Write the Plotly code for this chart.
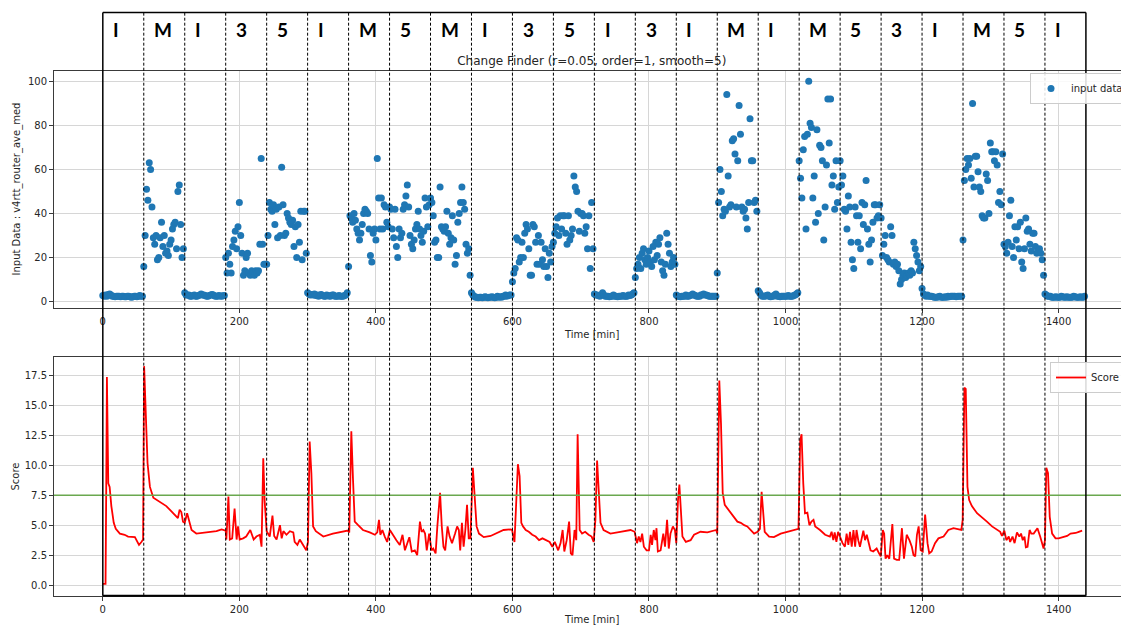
import plotly.graph_objects as go

# ---------------- data ----------------
segment_labels = ["I", "M", "I", "3", "5", "I", "M", "5", "M", "I", "3", "5",
                  "I", "3", "I", "M", "I", "M", "5", "3", "I", "M", "5", "I"]
segment_minutes = 60
threshold = 7.5

# input data sampled every 2 minutes (t = 0, 2, ..., 1438)
input_values = [
    # 0-60 I
    2.8, 2.5, 3.0, 2.5, 3.2, 3.5, 3.0, 2.5, 2.5, 2.2, 2.5, 2.5, 2.5, 2.2, 2.5, 2.5, 2.2, 2.2, 2.5, 2.5, 2.2, 2.0, 2.2, 2.5, 2.5, 2.2, 2.5, 2.8, 2.5, 2.5,
    # 60-120 M
    16, 30, 51, 46, 63, 60, 43, 29, 26, 30, 19, 20, 29, 36, 25, 30, 22, 23, 21, 26, 28, 33, 35, 36, 24, 50, 53, 35, 20, 24,
    # 120-180 I
    4.0, 3.0, 3.0, 3.0, 2.5, 2.5, 2.8, 3.0, 2.5, 2.5, 2.8, 3.0, 3.5, 3.0, 3.0, 2.8, 2.5, 2.5, 2.8, 3.0, 3.2, 3.0, 2.6, 2.5, 2.5, 2.8, 2.6, 2.5, 2.7, 2.8,
    # 180-240 3
    20, 13, 22, 17, 13, 25, 28, 32, 24, 34, 45, 30, 22, 12, 14, 20, 22, 13, 12, 14, 13, 12, 14, 13, 14, 26, 65, 26, 17, 17,
    # 240-300 5
    17, 30, 45, 42, 41, 44, 35, 42, 29, 43, 30, 61, 44, 30, 31, 40, 38, 36, 35, 37, 25, 34, 20, 35, 27, 41, 19, 41, 41, 22,
    # 300-360 I
    4.0, 3.5, 3.0, 3.2, 3.0, 3.5, 2.8, 3.0, 2.5, 3.0, 3.2, 2.8, 2.5, 2.5, 3.0, 2.8, 2.5, 2.6, 3.0, 3.0, 2.5, 2.4, 2.5, 2.8, 2.5, 2.5, 2.5, 2.8, 3.0, 4.0,
    # 360-420 M
    16, 39, 38, 36, 40, 37, 33, 31, 28, 31, 35, 40, 42, 41, 40, 33, 21, 18, 31, 33, 28, 65, 47, 33, 47, 33, 44, 43, 36, 34,
    # 420-480 5
    43, 42, 33, 29, 42, 25, 20, 33, 29, 31, 42, 44, 48, 53, 43, 30, 26, 24, 28, 33, 35, 41, 33, 30, 27, 32, 47, 43, 34, 44,
    # 480-540 M
    47, 45, 39, 27, 28, 20, 20, 52, 34, 33, 32, 34, 41, 31, 26, 29, 39, 28, 17, 21, 36, 40, 45, 52, 45, 42, 26, 22, 24, 12,
    # 540-600 I
    4.0, 3.0, 2.5, 2.0, 2.0, 1.8, 2.0, 2.0, 1.8, 2.0, 2.2, 2.0, 1.8, 2.0, 2.0, 2.2, 2.0, 1.8, 2.0, 2.5, 2.0, 2.2, 2.0, 2.5, 2.5, 3.0, 2.5, 2.8, 3.0, 3.0,
    # 600-660 3
    9, 13, 15, 29, 28, 18, 20, 27, 20, 31, 35, 33, 24, 12, 12, 35, 34, 27, 17, 30, 17, 27, 19, 16, 24, 16, 11, 22, 18, 25,
    # 660-720 5
    27, 31, 34, 38, 30, 39, 33, 39, 39, 31, 26, 39, 28, 30, 33, 57, 52, 50, 41, 32, 40, 40, 39, 31, 34, 24, 39, 15, 45, 24,
    # 720-780 I
    3.5, 3.0, 3.0, 2.8, 2.5, 3.0, 4.0, 3.0, 2.5, 2.5, 2.5, 2.2, 2.5, 2.5, 3.0, 2.5, 2.5, 2.2, 2.5, 2.5, 2.5, 2.8, 2.5, 2.5, 2.5, 3.0, 2.8, 3.0, 3.5, 4.0,
    # 780-840 3
    11, 15, 17, 20, 15, 22, 24, 19, 17, 20, 23, 18, 16, 25, 19, 27, 21, 26, 29, 18, 14, 12, 17, 31, 26, 22, 16, 18, 20, 17,
    # 840-900 I
    3.0, 2.5, 2.5, 2.2, 2.5, 2.5, 2.5, 3.0, 2.5, 2.5, 2.8, 3.0, 3.5, 3.0, 2.8, 2.5, 2.5, 2.5, 3.0, 3.0, 3.5, 3.0, 3.0, 2.8, 2.5, 2.5, 2.5, 2.5, 2.5, 2.5,
    # 900-960 M
    13, 45, 60, 50, 39, 42, 41, 94, 57, 43, 44, 73, 74, 67, 43, 64, 89, 76, 43, 41, 42, 38, 33, 45, 83, 64, 64, 45, 46, 41,
    # 960-1020 I
    5.0, 4.0, 3.0, 2.5, 2.5, 2.5, 2.8, 3.0, 2.5, 2.2, 2.5, 2.5, 3.0, 3.5, 2.5, 2.5, 2.2, 2.5, 2.5, 2.5, 2.5, 2.5, 2.8, 2.5, 2.5, 2.5, 2.8, 3.0, 3.5, 4.0,
    # 1020-1080 M
    64, 56, 47, 69, 75, 33, 76, 100, 81, 79, 47, 57, 36, 78, 40, 71, 70, 64, 28, 43, 62, 92, 72, 92, 53, 57, 42, 64, 45, 52,
    # 1080-1140 5
    64, 53, 57, 42, 41, 33, 48, 43, 27, 19, 15, 43, 39, 27, 39, 24, 45, 35, 44, 55, 33, 26, 18, 28, 36, 44, 44, 38, 39, 44,
    # 1140-1200 3
    38, 21, 26, 30, 20, 19, 18, 34, 30, 17, 18, 16, 17, 14, 8, 10, 12, 13, 11, 12, 13, 12, 14, 13, 27, 24, 21, 18, 14, 16,
    # 1200-1260 I
    6.0, 3.5, 3.0, 2.5, 3.0, 2.5, 2.5, 2.5, 2.2, 2.0, 2.0, 2.0, 2.2, 2.5, 2.0, 2.0, 2.0, 2.2, 2.0, 2.5, 2.2, 2.5, 2.5, 2.5, 2.5, 2.2, 2.5, 2.5, 2.5, 2.5,
    # 1260-1320 M
    28, 55, 60, 65, 62, 65, 56, 90, 52, 66, 66, 59, 52, 50, 39, 38, 38, 58, 55, 40, 72, 68, 68, 64, 68, 62, 45, 50, 44, 67,
    # 1320-1380 5
    26, 25, 22, 27, 39, 46, 25, 20, 34, 28, 34, 24, 36, 18, 15, 24, 38, 32, 33, 26, 23, 31, 31, 25, 22, 23, 24, 22, 19, 12,
    # 1380-1440 I
    3.5, 3.0, 2.5, 2.5, 2.5, 2.0, 2.0, 2.0, 2.2, 2.0, 2.0, 2.0, 2.5, 2.2, 2.0, 2.0, 2.2, 2.0, 2.0, 2.0, 2.0, 2.5, 2.2, 2.0, 2.0, 2.0, 2.2, 2.0, 2.0, 2.5,
]
input_times = list(range(0, 2 * len(input_values), 2))

# Change-finder score (time [min], score)
score_t = [0, 4, 5, 6, 8, 10, 12.5, 16, 19, 25, 32, 37, 47, 50, 53, 56.5, 59, 60.5, 63, 65.5, 69, 74, 93, 110, 112.5, 115, 117.5, 120, 123.5, 126.5,
           130, 137, 152, 166.5, 174, 180, 181, 184, 186, 189.5, 193, 196, 198, 200.5, 205.5, 210, 216, 221, 225, 230, 232.5, 235, 237, 240,
           244.5, 248.5, 251, 254.5, 259.5, 262, 264.5, 269, 274, 279, 281, 285, 288.5, 293.5, 298, 300.5, 303, 305.5, 308, 312, 323, 337, 352,
           359, 361, 364, 366.5, 369, 374, 381, 391, 398.5, 402, 404.5, 406.5, 409.5, 413, 416.5, 420.5, 425.5, 430, 435, 439, 442.5, 446, 449,
           452.5, 457, 460.5, 464.5, 467, 469.5, 472, 474.5, 478, 481.5, 484, 487.5, 490, 494, 496.5, 499, 501.5, 505, 508, 511.5, 516, 519,
           521.5, 523.5, 526, 528.5, 531, 533.5, 536, 538.5, 542, 544.5, 547.5, 551, 558, 568, 587, 597, 599.5, 603, 605.5, 608, 610.5, 613,
           615.5, 619.5, 624, 629, 634, 639, 644, 648.5, 654.5, 658.5, 662, 667, 670.5, 673.5, 676, 679.5, 683, 685.5, 688, 691, 693.5, 695.5,
           698.5, 702, 706.5, 711.5, 716, 719, 721.5, 724, 726.5, 729, 733.5, 743.5, 758, 773, 779, 782.5, 785, 787.5, 790, 792.5, 796.5, 800,
           802.5, 804.5, 807, 809.5, 811, 813, 817, 821, 823.5, 826.5, 829, 831.5, 835, 838, 840, 842.5, 844.5, 846.5, 849, 854, 861, 866,
           875.5, 885.5, 893, 898.5, 900, 901.5, 903, 905.5, 908, 911, 915, 919.5, 924.5, 929.5, 934.5, 939.5, 944, 949, 954, 959, 962.5, 965,
           967, 969.5, 976, 983, 993, 1003, 1012.5, 1017.5, 1019, 1021.5, 1023.5, 1026, 1028.5, 1032, 1035, 1038, 1041, 1043.5, 1050.5, 1058,
           1065, 1067.5, 1070, 1072, 1074.5, 1077, 1079.5, 1083.5, 1087, 1089.5, 1092, 1094.5, 1097, 1099.5, 1102, 1104, 1106.5, 1109, 1114,
           1116.5, 1119, 1121.5, 1124.5, 1128.5, 1133.5, 1137, 1139.5, 1142.5, 1144.5, 1146.5, 1149, 1152, 1156.5, 1159, 1163, 1166.5, 1170.5,
           1173.5, 1177.5, 1181.5, 1185, 1187.5, 1190, 1192.5, 1195, 1198, 1201, 1204.5, 1208, 1210.5, 1214, 1219, 1224, 1231.5, 1238.5, 1246,
           1253.5, 1257.5, 1259.5, 1262, 1264, 1266.5, 1269, 1273, 1280.5, 1287.5, 1295, 1302.5, 1309.5, 1314.5, 1317, 1320.5, 1323.5, 1327,
           1329, 1332.5, 1335.5, 1339, 1342.5, 1345, 1347.5, 1350, 1352, 1354.5, 1357.5, 1360, 1363.5, 1367, 1369, 1373, 1375.5, 1378, 1380,
           1382, 1384.5, 1387, 1390.5, 1395.5, 1400, 1407.5, 1412.5, 1417.5, 1425, 1429.5, 1434.5]
score_v = [0.1, 0.1, 8.0, 17.4, 8.5, 8.2, 6.6, 5.2, 4.7, 4.3, 4.2, 4.05, 4.0, 3.6, 3.35, 3.6, 3.8, 18.3, 13.5, 10.2, 8.2, 7.3, 6.6, 5.6, 6.3, 6.1, 5.3, 5.2, 6.0, 5.3,
           4.6, 4.3, 4.4, 4.5, 4.65, 4.55, 3.8, 7.4, 3.8, 3.9, 6.4, 3.8, 4.9, 3.8, 3.9, 4.05, 4.6, 3.8, 4.05, 4.2, 3.2, 10.6, 7.1, 4.5,
           4.05, 5.8, 4.1, 3.8, 5.0, 3.9, 4.5, 4.2, 4.5, 4.4, 3.6, 3.35, 3.8, 3.35, 2.9, 3.6, 12.0, 9.35, 4.9, 4.5, 4.05, 4.3, 4.5,
           4.55, 4.4, 12.85, 8.8, 5.3, 5.0, 4.6, 4.4, 4.2, 4.4, 5.45, 4.2, 4.6, 4.05, 3.6, 4.6, 4.1, 3.75, 3.35, 4.2, 2.9, 3.5, 4.0,
           2.8, 2.9, 2.5, 5.3, 4.45, 4.6, 4.3, 2.9, 4.3, 2.9, 3.05, 2.65, 4.9, 7.7, 4.9, 3.2, 2.9, 4.9, 4.05, 3.5, 4.3, 4.9,
           4.6, 2.9, 5.2, 3.2, 4.6, 6.7, 3.9, 3.9, 9.8, 7.8, 4.9, 4.3, 4.0, 4.1, 4.6, 4.65, 4.6, 3.6, 7.4, 10.1, 9.1, 5.2,
           4.9, 4.6, 4.45, 4.2, 4.05, 3.75, 3.9, 3.75, 3.6, 3.2, 3.6, 2.9, 3.5, 4.6, 2.8, 3.75, 5.3, 2.65, 2.5, 4.6, 3.75, 12.6,
           4.6, 4.3, 4.45, 4.2, 4.05, 3.6, 5.45, 10.4, 8.2, 5.2, 4.6, 4.3, 4.45, 4.6, 4.45, 3.5, 4.05, 3.6, 4.3, 3.2, 2.9, 2.9,
           4.2, 3.35, 4.6, 3.75, 4.75, 2.8, 2.9, 4.3, 3.2, 5.45, 3.05, 4.3, 4.9, 4.6, 3.5, 7.1, 8.4, 6.0, 4.05, 3.6, 3.75, 4.2,
           4.45, 4.4, 4.55, 4.6, 4.3, 12.1, 17.1, 13.5, 7.7, 6.7, 6.4, 6.1, 5.7, 5.3, 5.2, 5.0, 4.9, 4.6, 4.3, 4.45, 4.7, 7.8,
           6.0, 4.45, 4.05, 4.0, 4.3, 4.45, 4.6, 4.65, 4.7, 12.1, 12.6, 8.5, 6.0, 6.05, 5.0, 5.3, 5.45, 4.9, 4.6, 4.2,
           4.05, 4.45, 3.75, 4.4, 3.6, 4.45, 4.05, 3.5, 3.2, 4.3, 3.35, 4.45, 3.2, 4.6, 3.2, 4.6, 3.75, 3.2, 4.55,
           3.75, 4.2, 3.6, 2.9, 2.8, 3.05, 2.65, 2.4, 4.6, 4.3, 2.2, 2.5, 2.2, 5.1, 2.2, 2.1, 2.1, 4.75,
           2.2, 4.2, 3.75, 3.2, 2.5, 2.4, 4.2, 4.9, 2.9, 2.8, 5.9, 3.5, 2.65, 2.8, 3.5, 3.9, 4.05, 4.6, 4.75,
           4.65, 4.6, 5.45, 16.5, 16.4, 8.2, 7.1, 6.6, 6.0, 5.7, 5.3, 4.9, 4.6, 4.45, 4.1, 4.55, 3.75, 4.05,
           3.6, 4.05, 3.5, 4.4, 4.05, 4.3, 3.75, 4.05, 3.15, 3.2, 4.6, 4.3, 4.3, 4.6, 4.75, 4.05, 3.6, 3.05, 3.75,
           9.8, 9.35, 5.7, 4.3, 3.9, 3.9, 4.05, 4.1, 4.3, 4.35, 4.45, 4.55]

x_ticks = [0, 200, 400, 600, 800, 1000, 1200, 1400]
top_y_ticks = [0, 20, 40, 60, 80, 100]
bottom_y_ticks = [0.0, 2.5, 5.0, 7.5, 10.0, 12.5, 15.0, 17.5]

# ---------------- figure ----------------
W, H = 1121, 626
FONT = "DejaVu Sans"
TXT = "#262626"
GRID = "#d6d6d6"

fig = go.Figure()
fig.add_trace(go.Scatter(
    x=input_times, y=input_values, mode="markers", name="input data",
    marker=dict(color="#1f77b4", size=7, line=dict(width=0)),
    xaxis="x", yaxis="y", legend="legend"))
fig.add_trace(go.Scatter(
    x=score_t, y=score_v, mode="lines", name="Score",
    line=dict(color="#ff0000", width=1.8),
    xaxis="x2", yaxis="y2", legend="legend2"))

x_range = [-71.5, 1491.4]
axis_common = dict(showgrid=True, gridcolor=GRID, gridwidth=1, zeroline=False,
                   showline=True, linecolor="#3a3a3a", linewidth=1,
                   ticks="outside", ticklen=4, tickcolor="#3a3a3a",
                   tickfont=dict(family=FONT, size=10, color=TXT))

top_dom = [1 - 308.3 / H, 1 - 70.7 / H]
bot_dom = [1 - 595.7 / H, 1 - 357.3 / H]

fig.update_layout(
    width=W, height=H,
    margin=dict(l=54, r=0, t=0, b=0, autoexpand=False),
    paper_bgcolor="white", plot_bgcolor="white",
    font=dict(family=FONT, size=10, color=TXT),
    xaxis=dict(domain=[0, 1], anchor="y", range=x_range, tickvals=x_ticks, mirror=True, **axis_common),
    yaxis=dict(domain=top_dom, anchor="x", range=[-3.02, 104.84], tickvals=top_y_ticks, **axis_common),
    xaxis2=dict(domain=[0, 1], anchor="y2", range=x_range, tickvals=x_ticks, mirror=True, **axis_common),
    yaxis2=dict(domain=bot_dom, anchor="x2", range=[-0.894, 19.04], tickvals=bottom_y_ticks,
                tickformat=".1f", **axis_common),
    title=dict(text="Change Finder (r=0.05, order=1, smooth=5)", xref="paper", x=0.504, xanchor="center",
               yref="container", y=1 - 61 / H, yanchor="middle", font=dict(family=FONT, size=12, color=TXT)),
    legend=dict(x=(1030 - 54) / 1067, y=1 - 73 / H, xanchor="left", yanchor="top",
                bgcolor="rgba(255,255,255,0.85)", bordercolor="#cccccc", borderwidth=1,
                font=dict(family=FONT, size=10, color=TXT)),
    legend2=dict(x=(1050 - 54) / 1067, y=1 - 362 / H, xanchor="left", yanchor="top",
                 bgcolor="rgba(255,255,255,0.85)", bordercolor="#cccccc", borderwidth=1,
                 font=dict(family=FONT, size=10, color=TXT)),
    showlegend=True,
)

# threshold line
fig.add_shape(type="line", xref="x2 domain", x0=0, x1=1, yref="y2", y0=threshold, y1=threshold,
              line=dict(color="#6aa84f", width=1.5))

# axis titles
fig.add_annotation(text="Input Data : v4rtt_router_ave_med", xref="paper", yref="paper",
                   x=(17 - 54) / 1067, y=sum(top_dom) / 2, textangle=-90, showarrow=False,
                   xanchor="center", yanchor="middle", font=dict(family=FONT, size=10, color=TXT))
fig.add_annotation(text="Score", xref="paper", yref="paper",
                   x=(15 - 54) / 1067, y=sum(bot_dom) / 2, textangle=-90, showarrow=False,
                   xanchor="center", yanchor="middle", font=dict(family=FONT, size=10, color=TXT))
fig.add_annotation(text="Time [min]", xref="paper", yref="paper", x=0.504, y=1 - 334 / H,
                   showarrow=False, xanchor="center", yanchor="middle", font=dict(family=FONT, size=10, color=TXT))
fig.add_annotation(text="Time [min]", xref="paper", yref="paper", x=0.504, y=1 - 619 / H,
                   showarrow=False, xanchor="center", yanchor="middle", font=dict(family=FONT, size=10, color=TXT))

# overlay: segment frame, dashed separators and segment labels
n_seg = len(segment_labels)
end_t = n_seg * segment_minutes
frame_top = 1 - 12.5 / H
frame_bot = bot_dom[0]
fig.add_shape(type="line", xref="x", yref="paper", x0=0, x1=end_t, y0=frame_top, y1=frame_top,
              line=dict(color="black", width=1.5))
fig.add_shape(type="line", xref="x", yref="paper", x0=0, x1=end_t, y0=frame_bot, y1=frame_bot,
              line=dict(color="black", width=2))
for xt in (0, end_t):
    fig.add_shape(type="line", xref="x", yref="paper", x0=xt, x1=xt, y0=frame_bot, y1=frame_top,
                  line=dict(color="black", width=1.5))
for i in range(1, n_seg):
    xt = i * segment_minutes
    fig.add_shape(type="line", xref="x", yref="paper", x0=xt, x1=xt, y0=frame_bot, y1=frame_top,
                  line=dict(color="black", width=1, dash="3px,2px"))
for i, lab in enumerate(segment_labels):
    fig.add_annotation(text="<b>%s</b>" % lab, xref="x", yref="paper", x=i * segment_minutes + 12,
                       y=1 - 30 / H, xanchor="left", yanchor="middle", showarrow=False,
                       font=dict(family="Lato", size=19, color="black"))

# remove the page's default body margin so the figure sits at the window's top-left corner
fig.write_html("out.html", config={"displayModeBar": False},
               post_script="document.body.style.margin='0px';document.body.style.overflow='hidden';")
